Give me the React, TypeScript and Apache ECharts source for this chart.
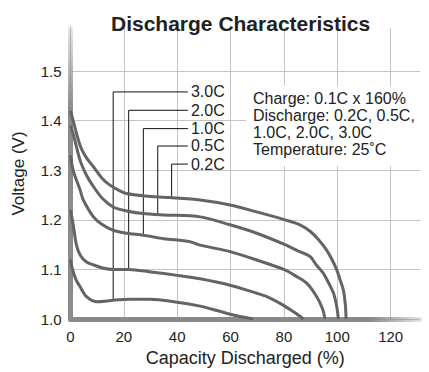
import React, { useEffect, useRef } from "react";
import * as echarts from "echarts";

const titleText = "Discharge Characteristics";
const xName = "Capacity Discharged (%)";
const yName = "Voltage (V)";
const infoLines = ["Charge: 0.1C x 160%", "Discharge: 0.2C, 0.5C,", "1.0C, 2.0C, 3.0C", "Temperature: 25˚C"];

const rates = ["0.2C", "0.5C", "1.0C", "2.0C", "3.0C"];

const curve02 = [[0,1.42],[1,1.40],[3.6,1.35],[6,1.325],[8.6,1.307],[12,1.283],[14.8,1.27],[18,1.26],[21,1.253],[28,1.248],[37,1.245],[48.6,1.24],[59.8,1.23],[69.8,1.216],[80.4,1.2],[86,1.19],[89.8,1.177],[93,1.16],[96,1.139],[98,1.12],[99.8,1.099],[101.3,1.075],[102.3,1.058],[103,1.03],[103.3,1.0]];
const curve05 = [[0,1.39],[1,1.374],[3.6,1.32],[6,1.29],[8.6,1.267],[12,1.243],[16,1.226],[21,1.218],[27,1.213],[35,1.21],[48.6,1.206],[59.8,1.19],[69.8,1.173],[80.4,1.15],[85,1.138],[89.8,1.126],[92,1.11],[94.8,1.092],[97,1.07],[98.6,1.052],[99.8,1.025],[100.4,1.0]];
const curve10 = [[0,1.33],[1,1.30],[3.6,1.26],[4.8,1.24],[8.6,1.206],[12,1.19],[16,1.179],[21,1.173],[27.3,1.169],[35,1.162],[44.8,1.156],[48.6,1.149],[59.8,1.136],[69.8,1.119],[80.4,1.099],[84,1.088],[88.6,1.072],[92.3,1.045],[94.5,1.02],[95.4,1.0]];
const curve20 = [[0,1.22],[1,1.19],[2.2,1.15],[3.6,1.129],[6,1.115],[8.6,1.109],[12,1.103],[16,1.10],[21.7,1.10],[30,1.095],[40,1.088],[48.6,1.081],[59.8,1.068],[69.8,1.052],[73.6,1.045],[80,1.027],[84,1.013],[87.3,1.0]];
const curve30 = [[0,1.12],[0.5,1.105],[2,1.08],[3.6,1.065],[6,1.045],[9.8,1.035],[13,1.036],[16,1.038],[22.3,1.04],[29.8,1.04],[40,1.034],[48.6,1.026],[55,1.017],[61,1.008],[68.5,1.0]];
const curves = [curve02, curve05, curve10, curve20, curve30];

// leader lines: x at curve, voltage at curve, voltage of label line
const leaderX = [37.9, 32.7, 27.3, 21.8, 16];
const leaderCurveV = [1.246, 1.212, 1.169, 1.10, 1.038];
const leaderTopV = [1.3125, 1.349, 1.384, 1.421, 1.458];
const leaderEndX = 44;

const xTicks = { min: 0, max: 131, interval: 20 };
const yTicks = { min: 1.0, max: 1.587, interval: 0.1 };

const FONT = "Liberation Sans, Arial, Helvetica, sans-serif";

export default function App() {
  const ref = useRef<HTMLDivElement>(null);
  useEffect(() => {
    const chart = echarts.init(ref.current!, null, { renderer: "svg" });
    const series: any[] = [];
    rates.forEach((r, i) => {
      series.push({
        type: "line",
        name: r + "-leader",
        data: [
          [leaderX[i], leaderCurveV[i]],
          [leaderX[i], leaderTopV[i]],
          [leaderEndX, leaderTopV[i]],
        ],
        symbol: "none",
        lineStyle: { color: "#111", width: 1 },
        endLabel: {
          show: true,
          distance: 3,
          formatter: r,
          color: "#222",
          fontSize: 16,
          fontFamily: FONT,
        },
        z: 2,
        silent: true,
      });
    });
    curves.forEach((c, i) => {
      series.push({
        type: "line",
        name: rates[i],
        data: c,
        smooth: 0.3,
        symbol: "none",
        lineStyle: { color: "#646464", width: 3 },
        z: 3,
      });
    });
    chart.setOption({
      animation: false,
      title: {
        text: titleText,
        left: 106,
        top: 8,
        textStyle: { fontSize: 21, fontWeight: "bold", color: "#222", fontFamily: FONT },
      },
      grid: { left: 70.5, right: 9, top: 28, bottom: 53 },
      xAxis: {
        type: "value",
        min: xTicks.min,
        max: xTicks.max,
        interval: xTicks.interval,
        name: xName,
        nameLocation: "middle",
        nameGap: 29,
        nameTextStyle: { fontSize: 18, color: "#222", fontFamily: FONT },
        axisLine: {
          show: true,
          lineStyle: {
            width: 5,
            color: new echarts.graphic.LinearGradient(370, 0, 425, 0, [
              { offset: 0, color: "#8a8a8a" },
              { offset: 1, color: "rgba(138,138,138,0.15)" },
            ], true),
          },
        },
        axisTick: { show: false },
        axisLabel: { color: "#222", fontSize: 15, margin: 10, fontFamily: FONT, showMaxLabel: false },
        splitLine: { show: true, showMaxLine: false, lineStyle: { color: "#c4c4c4", width: 1 } },
      },
      yAxis: {
        type: "value",
        min: yTicks.min,
        max: yTicks.max,
        interval: yTicks.interval,
        name: yName,
        nameLocation: "middle",
        nameGap: 44,
        nameTextStyle: { fontSize: 17, color: "#222", fontFamily: FONT },
        axisLine: {
          show: true,
          lineStyle: {
            width: 5,
            color: new echarts.graphic.LinearGradient(0, 28, 0, 110, [
              { offset: 0, color: "rgba(138,138,138,0.2)" },
              { offset: 1, color: "#8a8a8a" },
            ], true),
          },
        },
        axisTick: { show: false },
        axisLabel: {
          color: "#222",
          fontSize: 15,
          margin: 9,
          fontFamily: FONT,
          showMaxLabel: false,
          formatter: (v: number) => v.toFixed(1),
        },
        splitLine: { show: true, showMaxLine: false, lineStyle: { color: "#c4c4c4", width: 1 } },
      },
      graphic: [
        {
          type: "text",
          left: 246,
          top: 86,
          z: 10,
          style: {
            text: infoLines.join("\n"),
            fontSize: 16,
            lineHeight: 17,
            fill: "#222",
            fontFamily: FONT,
            backgroundColor: "#fff",
            padding: [4, 14, 8, 7],
          },
        },
      ],
      series,
    });
    return () => chart.dispose();
  }, []);
  return <div ref={ref} style={{ width: 429, height: 372, position: "absolute", left: 0, top: 0, background: "#fff" }} />;
}
